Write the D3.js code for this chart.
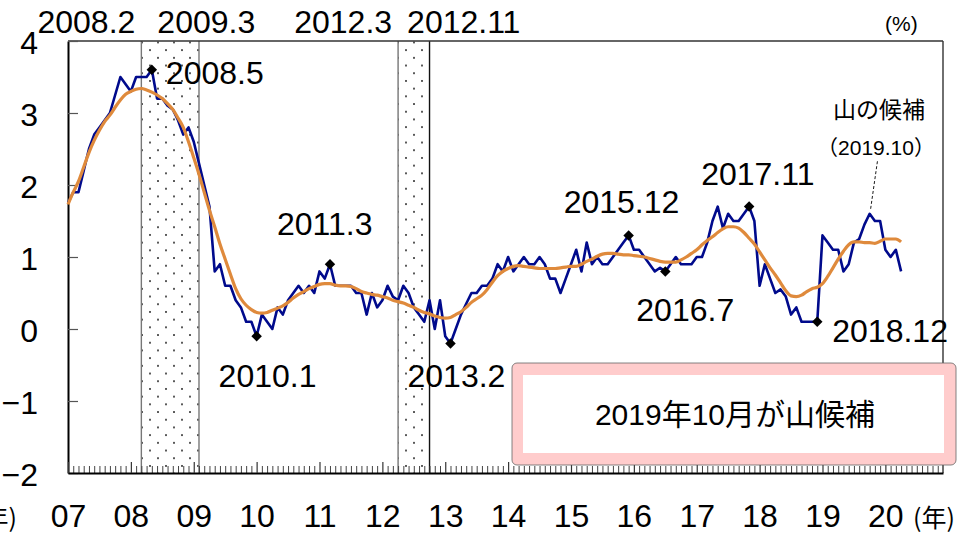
<!DOCTYPE html>
<html>
<head>
<meta charset="utf-8">
<script src="https://cdn.jsdelivr.net/npm/d3@7"></script>
<style>
  body { margin: 0; background: #fff; }
  svg text { font-family: "Liberation Sans Narrow", "Liberation Sans", "Noto Sans CJK JP", sans-serif; fill: #000; }
</style>
</head>
<body>
<script>
(function() {
  const WIDTH = 980;
  const HEIGHT = 533;

  // months counted from 2007.1
  const START_YEAR = 2007;
  const yearLabels = ['07', '08', '09', '10', '11', '12', '13', '14', '15', '16', '17', '18', '19', '20'];
  const yTicks = [-2, -1, 0, 1, 2, 3, 4];

  // monthly series, 2007.1 - 2020.4
  const ratio = [
    1.75, 1.9, 1.9, 2.2, 2.5, 2.7, 2.8, 2.9, 3.0, 3.25,
    3.5, 3.4, 3.3, 3.5, 3.5, 3.5, 3.6, 3.2, 3.2, 3.1,
    3.05, 2.9, 2.7, 2.8, 2.6, 2.3, 2.0, 1.7, 0.8, 0.9,
    0.6, 0.6, 0.4, 0.3, 0.1, 0.1, -0.1, 0.2, 0.1, 0.0,
    0.3, 0.2, 0.4, 0.5, 0.6, 0.5, 0.6, 0.5, 0.8, 0.7,
    0.9, 0.6, 0.6, 0.6, 0.6, 0.5, 0.5, 0.2, 0.5, 0.3,
    0.4, 0.6, 0.45, 0.4, 0.6, 0.5, 0.3, 0.2, 0.1, 0.4,
    0.0, 0.4, -0.1, -0.2, 0.0, 0.2, 0.35, 0.5, 0.5, 0.6,
    0.6, 0.7, 0.9, 0.8, 1.0, 0.8, 0.9, 1.0, 0.9, 0.9,
    1.0, 0.9, 0.7, 0.7, 0.5, 0.7, 0.9, 1.1, 0.8, 1.2,
    0.9, 1.0, 0.9, 0.9, 1.0, 1.1, 1.2, 1.3, 1.1, 1.1,
    1.0, 0.9, 0.8, 0.85, 0.8, 0.9, 1.0, 0.9, 0.9, 0.9,
    1.0, 1.0, 1.2, 1.5, 1.7, 1.4, 1.6, 1.5, 1.5, 1.6,
    1.7, 1.5, 0.6, 0.9, 0.7, 0.5, 0.55, 0.45, 0.2, 0.3,
    0.1, 0.1, 0.1, 0.1, 1.3, 1.2, 1.1, 1.1, 0.8, 0.9,
    1.2, 1.25, 1.45, 1.6, 1.5, 1.5, 1.1, 1.0, 1.1, 0.8
  ];

  const trend = [
    1.73, 1.9, 2.05, 2.25, 2.45, 2.62, 2.76, 2.88, 2.97, 3.08,
    3.18, 3.26, 3.3, 3.33, 3.34, 3.32, 3.29, 3.25, 3.2, 3.13,
    3.05, 2.93, 2.8, 2.6, 2.38, 2.15, 1.9, 1.65, 1.42, 1.18,
    0.97, 0.76, 0.56, 0.42, 0.33, 0.27, 0.23, 0.22, 0.23, 0.26,
    0.29, 0.32, 0.37, 0.43, 0.48, 0.52, 0.56, 0.59, 0.62, 0.63,
    0.63, 0.61, 0.6, 0.6, 0.59, 0.56, 0.52, 0.5, 0.48, 0.47,
    0.45, 0.43, 0.4, 0.38, 0.36, 0.33, 0.3, 0.26, 0.23, 0.21,
    0.18, 0.16, 0.15, 0.16, 0.2, 0.24, 0.3, 0.37, 0.42, 0.47,
    0.55, 0.65, 0.74, 0.8, 0.84, 0.87, 0.88, 0.87, 0.86, 0.85,
    0.84, 0.84, 0.84, 0.84, 0.85, 0.86, 0.87, 0.87, 0.9, 0.94,
    0.97, 1.01, 1.04, 1.05, 1.05, 1.04, 1.03, 1.03, 1.02, 1.01,
    1.0, 0.98, 0.96, 0.94, 0.93, 0.93, 0.93, 0.96, 1.0, 1.05,
    1.1, 1.17, 1.23, 1.28, 1.34, 1.39, 1.42, 1.42, 1.4, 1.34,
    1.26, 1.18, 1.07, 0.96, 0.85, 0.75, 0.64, 0.53, 0.46, 0.45,
    0.47, 0.52, 0.56, 0.58, 0.63, 0.73, 0.85, 0.97, 1.08, 1.17,
    1.21, 1.21, 1.2, 1.2, 1.19, 1.22, 1.25, 1.25, 1.25, 1.21
  ];

  // recessions: peak / trough
  const recessionPeaks = ['2008.2', '2012.3'];
  const recessionTroughs = ['2009.3', '2012.11'];

  // marked turning points of the series
  const markedPoints = ['2008.5', '2010.1', '2011.3', '2013.2', '2015.12', '2016.7', '2017.11', '2018.12'];
  const candidatePeak = '2019.10';

  const monthIndex = s => {
    const [y, m] = s.split('.').map(Number);
    return (y - START_YEAR) * 12 + m - 1;
  };

  const margin = { top: 41, right: 37, bottom: 60, left: 68 };
  const x = d3.scaleLinear().domain([0, 167]).range([margin.left, WIDTH - margin.right]);
  const y = d3.scaleLinear().domain([-2, 4]).range([HEIGHT - margin.bottom, margin.top]);

  const svg = d3.select('body')
    .append('svg')
    .attr('width', WIDTH)
    .attr('height', HEIGHT);

  // dotted pattern for recession bands
  const pattern = svg.append('defs')
    .append('pattern')
    .attr('id', 'dots')
    .attr('patternUnits', 'userSpaceOnUse')
    .attr('width', 16)
    .attr('height', 15.4)
    .attr('x', 4)
    .attr('y', 2);
  pattern.append('circle').attr('cx', 2).attr('cy', 2).attr('r', 1).attr('fill', '#222');
  pattern.append('circle').attr('cx', 10).attr('cy', 9.7).attr('r', 1).attr('fill', '#222');

  const bands = recessionPeaks.map((p, i) => ({
    peak: p,
    trough: recessionTroughs[i],
    from: monthIndex(p) + 1,
    to: monthIndex(recessionTroughs[i]) - 1
  }));

  const bandG = svg.append('g');
  bandG.selectAll('rect')
    .data(bands)
    .enter()
    .append('rect')
    .attr('x', d => x(d.from))
    .attr('y', y(4))
    .attr('width', d => x(d.to) - x(d.from))
    .attr('height', y(-2) - y(4))
    .attr('fill', 'url(#dots)');
  bands.forEach(d => {
    [d.from, d.to].forEach((m, k) => {
      bandG.append('line')
        .attr('x1', x(m)).attr('x2', x(m))
        .attr('y1', y(4)).attr('y2', y(-2))
        .attr('stroke', k === 1 && d.peak === '2012.3' ? '#111' : '#777')
        .attr('stroke-width', 1.4);
    });
  });

  // frame
  svg.append('line')
    .attr('x1', x(0)).attr('x2', x(167))
    .attr('y1', y(4)).attr('y2', y(4))
    .attr('stroke', '#333').attr('stroke-width', 1.4);
  svg.append('line')
    .attr('x1', x(167)).attr('x2', x(167))
    .attr('y1', y(4)).attr('y2', y(-2))
    .attr('stroke', '#333').attr('stroke-width', 1.4);

  // y axis
  const yAxis = svg.append('g')
    .attr('transform', `translate(${x(0)},0)`)
    .call(d3.axisLeft(y)
      .tickValues(yTicks)
      .tickSize(-10)
      .tickSizeOuter(0)
      .tickPadding(30)
      .tickFormat(d => (d < 0 ? '\u2212' + Math.abs(d) : String(d))));
  yAxis.select('.domain').attr('stroke', '#000').attr('stroke-width', 2);
  yAxis.selectAll('.tick line').attr('stroke', '#555').attr('stroke-width', 1.2);
  yAxis.selectAll('.tick text')
    .attr('font-size', 32)
    .attr('dy', '0.4em')
    .style('font-family', '"Liberation Sans Narrow", "Liberation Sans", sans-serif');

  // x axis: month ticks and year ticks
  const monthTicks = d3.range(1, 167).filter(m => m % 12 !== 0);
  const xMinor = svg.append('g')
    .attr('transform', `translate(0,${y(-2)})`)
    .call(d3.axisBottom(x).tickValues(monthTicks).tickSize(-7).tickSizeOuter(0).tickFormat(''));
  xMinor.select('.domain').remove();
  xMinor.selectAll('.tick line').attr('stroke', '#444').attr('stroke-width', 1);

  const yearTicks = yearLabels.map((d, i) => i * 12);
  const xMajor = svg.append('g')
    .attr('transform', `translate(0,${y(-2)})`)
    .call(d3.axisBottom(x)
      .tickValues(yearTicks)
      .tickSize(-11)
      .tickSizeOuter(0)
      .tickPadding(31)
      .tickFormat((d, i) => yearLabels[i]));
  xMajor.select('.domain').attr('stroke', '#000').attr('stroke-width', 2);
  xMajor.selectAll('.tick line').attr('stroke', '#333').attr('stroke-width', 1.2);
  xMajor.selectAll('.tick text')
    .attr('font-size', 32)
    .style('font-family', '"Liberation Sans Narrow", "Liberation Sans", sans-serif');

  // series lines
  const line = d3.line()
    .x((d, i) => x(i))
    .y(d => y(d));

  svg.append('path')
    .datum(ratio)
    .attr('fill', 'none')
    .attr('stroke', '#000a8c')
    .attr('stroke-width', 2.6)
    .attr('stroke-linejoin', 'round')
    .attr('d', line);

  svg.append('path')
    .datum(trend)
    .attr('fill', 'none')
    .attr('stroke', '#df8a3c')
    .attr('stroke-width', 3.2)
    .attr('stroke-linejoin', 'round')
    .attr('d', line.curve(d3.curveMonotoneX));

  // turning point markers
  const points = markedPoints.map(s => ({ label: s, m: monthIndex(s), v: ratio[monthIndex(s)] }));
  svg.append('g')
    .selectAll('path')
    .data(points)
    .enter()
    .append('path')
    .attr('d', d3.symbol().type(d3.symbolDiamond2).size(70))
    .attr('transform', d => `translate(${x(d.m)},${y(d.v)})`)
    .attr('fill', '#000');

  // label placement relative to each marker
  const labelPos = {
    '2008.5': { dx: 14, dy: 14, anchor: 'start' },
    '2010.1': { dx: -38, dy: 51, anchor: 'start' },
    '2011.3': { dx: -53, dy: -29, anchor: 'start' },
    '2013.2': { dx: -43, dy: 44, anchor: 'start' },
    '2015.12': { dx: -65, dy: -22, anchor: 'start' },
    '2016.7': { dx: -29, dy: 50, anchor: 'start' },
    '2017.11': { dx: -48, dy: -22, anchor: 'start' },
    '2018.12': { dx: 15, dy: 20, anchor: 'start' }
  };

  svg.append('g')
    .selectAll('text')
    .data(points)
    .enter()
    .append('text')
    .attr('x', d => x(d.m) + labelPos[d.label].dx)
    .attr('y', d => y(d.v) + labelPos[d.label].dy)
    .attr('text-anchor', d => labelPos[d.label].anchor)
    .attr('font-size', 32)
    .text(d => d.label);

  // recession dates at the top
  bands.forEach(d => {
    svg.append('text')
      .attr('x', x(d.from) - 6)
      .attr('y', 33)
      .attr('text-anchor', 'end')
      .attr('font-size', 32)
      .text(d.peak);
    svg.append('text')
      .attr('x', x(d.from) + (d.peak === '2008.2' ? 16 : 9))
      .attr('y', 33)
      .attr('text-anchor', 'start')
      .attr('font-size', 32)
      .text(d.trough);
  });

  // candidate peak annotation
  const cm = monthIndex(candidatePeak);
  const cx = x(cm);
  const cy = y(ratio[cm]);
  svg.append('line')
    .attr('x1', cx + 1).attr('y1', cy - 5)
    .attr('x2', cx + 8).attr('y2', cy - 54)
    .attr('stroke', '#000')
    .attr('stroke-width', 0.9)
    .attr('stroke-dasharray', '3,2');
  svg.append('text')
    .attr('x', 879)
    .attr('y', 118)
    .attr('text-anchor', 'middle')
    .attr('font-size', 23)
    .style('font-family', '"Noto Sans CJK JP", sans-serif')
    .text('山の候補');
  svg.append('text')
    .attr('x', 876)
    .attr('y', 155)
    .attr('text-anchor', 'middle')
    .attr('font-size', 21)
    .text('（' + candidatePeak + '）');

  // units
  svg.append('text')
    .attr('x', 885)
    .attr('y', 31)
    .attr('text-anchor', 'start')
    .attr('font-size', 21)
    .text('(%)');
  svg.append('text')
    .attr('x', 913)
    .attr('y', 527)
    .attr('text-anchor', 'start')
    .attr('font-size', 25)
    .style('font-family', '"Noto Sans CJK JP", sans-serif')
    .text('(年)');
  svg.append('text')
    .attr('x', 17)
    .attr('y', 527)
    .attr('text-anchor', 'end')
    .attr('font-size', 25)
    .style('font-family', '"Noto Sans CJK JP", sans-serif')
    .text('(年)');

  // message box
  const box = svg.append('g');
  box.append('rect')
    .attr('x', 512).attr('y', 363)
    .attr('width', 444).attr('height', 102)
    .attr('rx', 5)
    .attr('fill', '#ffcccc')
    .attr('stroke', '#666')
    .attr('stroke-width', 0.8);
  box.append('rect')
    .attr('x', 523).attr('y', 375)
    .attr('width', 421).attr('height', 78)
    .attr('fill', '#fff');
  box.append('text')
    .attr('x', 735)
    .attr('y', 425)
    .attr('text-anchor', 'middle')
    .attr('font-size', 30)
    .text('2019年10月が山候補');
})();
</script>
</body>
</html>
